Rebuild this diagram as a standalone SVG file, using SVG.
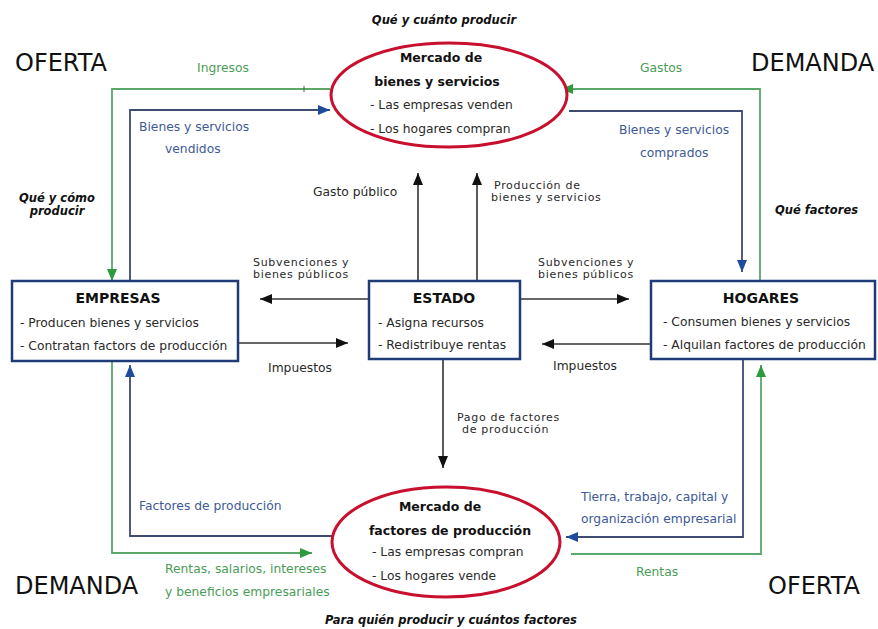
<svg xmlns="http://www.w3.org/2000/svg" width="878" height="629" viewBox="0 0 878 629">
<style>
text{font-family:"DejaVu Sans","Verdana",sans-serif;fill:#2a2a2a}
.t{font-size:12.3px}
.s{font-size:11px;letter-spacing:0.7px}
.h{font-size:14px;font-weight:bold;fill:#111}
.mh{font-size:12.5px;font-weight:bold;fill:#111}
.q{font-size:11.5px;font-weight:bold;font-style:italic;fill:#111}
.big{font-size:24px;fill:#111}
.g{fill:#4a9d56}
.b{fill:#3e5a96}
.box{fill:#fff;stroke:#1f3c78;stroke-width:2.5}
.ell{fill:#fff;stroke:#c8102e;stroke-width:3}
.lk{fill:none;stroke:#333;stroke-width:1.6}
.lg{fill:none;stroke:#5aa86a;stroke-width:1.8}
.lb{fill:none;stroke:#3d4a72;stroke-width:1.8}
</style>
<defs>
<marker id="ak" markerUnits="userSpaceOnUse" markerWidth="12" markerHeight="10" refX="12" refY="5" orient="auto"><path d="M0,0 L12,5 L0,10 z" fill="#111"/></marker>
<marker id="ag" markerUnits="userSpaceOnUse" markerWidth="12" markerHeight="10" refX="12" refY="5" orient="auto"><path d="M0,0 L12,5 L0,10 z" fill="#2e9a3e"/></marker>
<marker id="ab" markerUnits="userSpaceOnUse" markerWidth="12" markerHeight="10" refX="12" refY="5" orient="auto"><path d="M0,0 L12,5 L0,10 z" fill="#1e4b9b"/></marker>
</defs>
<rect width="878" height="629" fill="#fff"/>

<g id="connectors">
<path class="lg" d="M330,89 H112 V281" marker-end="url(#ag)"/>
<line x1="304" y1="86" x2="304" y2="92" stroke="#555" stroke-width="1"/>
<path class="lb" d="M130,281 V110 H330" marker-end="url(#ab)"/>
<path class="lg" d="M760,281 V89 H561" marker-end="url(#ag)"/>
<path class="lb" d="M569,111 H742 V272" marker-end="url(#ab)"/>
<path class="lk" d="M369,299 H260" marker-end="url(#ak)"/>
<path class="lk" d="M238,343 H348" marker-end="url(#ak)"/>
<path class="lk" d="M520,299 H629" marker-end="url(#ak)"/>
<path class="lk" d="M651,344 H542" marker-end="url(#ak)"/>
<path class="lk" d="M418,281 V173" marker-end="url(#ak)"/>
<path class="lk" d="M477,281 V173" marker-end="url(#ak)"/>
<path class="lk" d="M443,359 V468" marker-end="url(#ak)"/>
<path class="lg" d="M112,361 V553 H312" marker-end="url(#ag)"/>
<path class="lb" d="M332,536 H130 V365" marker-end="url(#ab)"/>
<path class="lb" d="M743,359 V537 H566" marker-end="url(#ab)"/>
<path class="lg" d="M571,554 H761 V365" marker-end="url(#ag)"/>
</g>

<g id="labels">
<text class="q" x="444" y="24" text-anchor="middle">Qué y cuánto producir</text>
<text class="q" x="451" y="624" text-anchor="middle">Para quién producir y cuántos factores</text>
<text class="q" x="57" y="202" text-anchor="middle">Qué y cómo</text>
<text class="q" x="57" y="215" text-anchor="middle">producir</text>
<text class="q" x="775" y="214">Qué factores</text>
<text class="big" x="15" y="71">OFERTA</text>
<text class="big" x="751" y="71">DEMANDA</text>
<text class="big" x="15" y="594">DEMANDA</text>
<text class="big" x="768" y="594">OFERTA</text>
<text class="t g" x="197" y="72">Ingresos</text>
<text class="t g" x="640" y="72">Gastos</text>
<text class="t b" x="139" y="131">Bienes y servicios</text>
<text class="t b" x="165" y="153">vendidos</text>
<text class="t b" x="619" y="134">Bienes y servicios</text>
<text class="t b" x="640" y="157">comprados</text>
<text class="t" x="313" y="196">Gasto público</text>
<text class="s" x="494" y="189">Producción de</text>
<text class="s" x="491" y="201">bienes y servicios</text>
<text class="s" x="253" y="266">Subvenciones y</text>
<text class="s" x="253" y="278">bienes públicos</text>
<text class="s" x="538" y="266">Subvenciones y</text>
<text class="s" x="538" y="278">bienes públicos</text>
<text class="t" x="268" y="372">Impuestos</text>
<text class="t" x="553" y="370">Impuestos</text>
<text class="s" x="457" y="421">Pago de factores</text>
<text class="s" x="462" y="433">de producción</text>
<text class="t b" x="139" y="510">Factores de producción</text>
<text class="t b" x="581" y="501">Tierra, trabajo, capital y</text>
<text class="t b" x="581" y="523">organización empresarial</text>
<text class="t g" x="165" y="573">Rentas, salarios, intereses</text>
<text class="t g" x="165" y="596">y beneficios empresariales</text>
<text class="t g" x="636" y="576">Rentas</text>
</g>

<g id="mercado-bienes">
<ellipse class="ell" cx="449" cy="95" rx="118" ry="52"/>
<text class="mh" x="441" y="62" text-anchor="middle">Mercado de</text>
<text class="mh" x="437" y="86" text-anchor="middle">bienes y servicios</text>
<text class="t" x="370" y="109">- Las empresas venden</text>
<text class="t" x="370" y="133">- Los hogares compran</text>
</g>

<g id="mercado-factores">
<ellipse class="ell" cx="446" cy="542" rx="114" ry="55"/>
<text class="mh" x="440" y="511" text-anchor="middle">Mercado de</text>
<text class="mh" x="450" y="535" text-anchor="middle">factores de producción</text>
<text class="t" x="372" y="556">- Las empresas compran</text>
<text class="t" x="372" y="580">- Los hogares vende</text>
</g>

<g id="empresas">
<rect class="box" x="12" y="281" width="226" height="80"/>
<text class="h" x="118" y="303" text-anchor="middle">EMPRESAS</text>
<text class="t" x="20" y="327">- Producen bienes y servicios</text>
<text class="t" x="20" y="350">- Contratan factors de producción</text>
</g>

<g id="estado">
<rect class="box" x="369" y="281" width="151" height="78"/>
<text class="h" x="444" y="303" text-anchor="middle">ESTADO</text>
<text class="t" x="378" y="327">- Asigna recursos</text>
<text class="t" x="378" y="349">- Redistribuye rentas</text>
</g>

<g id="hogares">
<rect class="box" x="651" y="281" width="224" height="78"/>
<text class="h" x="761" y="303" text-anchor="middle">HOGARES</text>
<text class="t" x="663" y="326">- Consumen bienes y servicios</text>
<text class="t" x="663" y="349">- Alquilan factores de producción</text>
</g>
</svg>
